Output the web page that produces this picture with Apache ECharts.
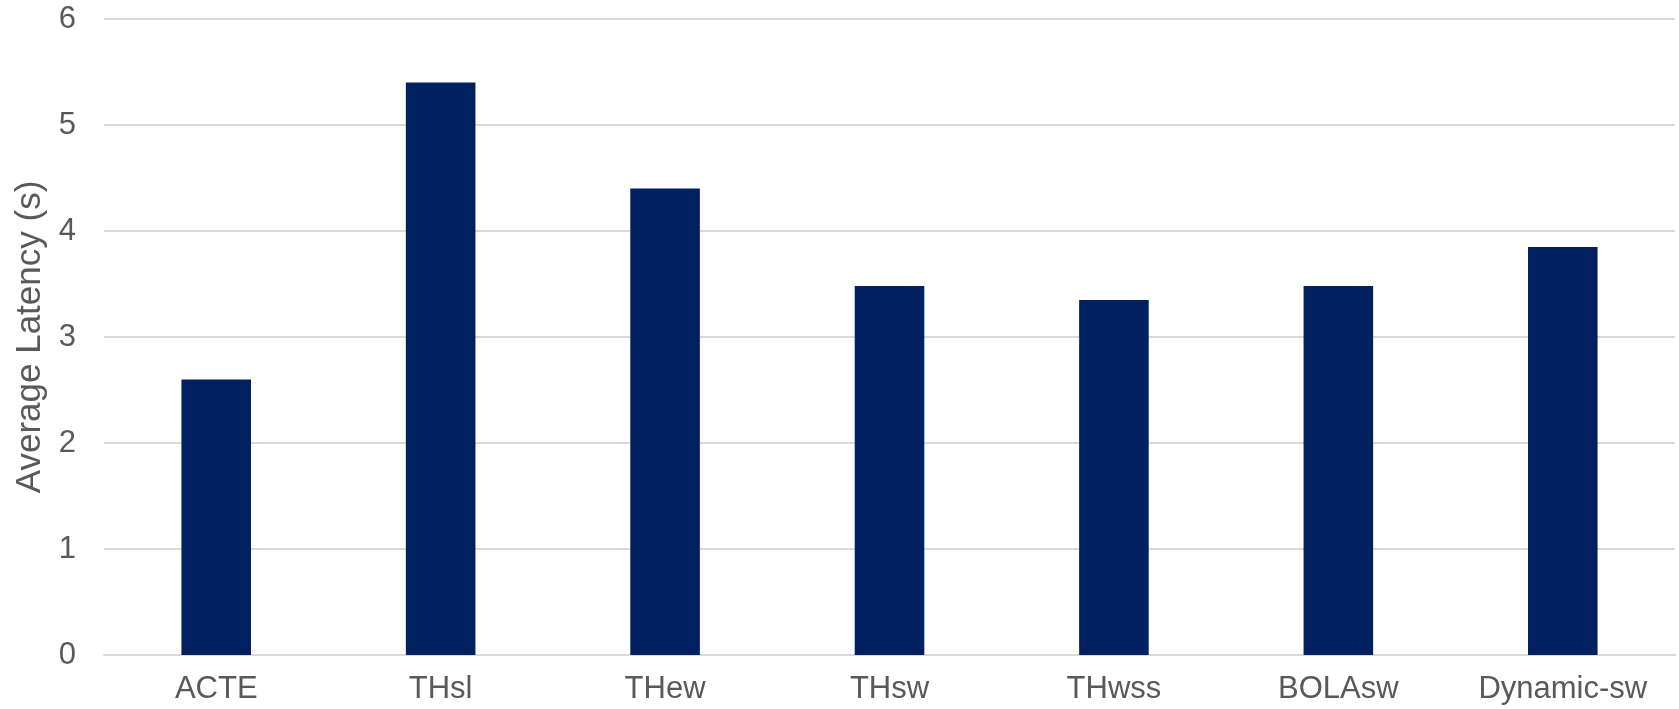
<!DOCTYPE html>
<html>
<head>
<meta charset="utf-8">
<script src="https://cdn.jsdelivr.net/npm/echarts@6/dist/echarts.min.js"></script>
<style>
html,body{margin:0;padding:0;background:#fff;}
#chart{width:1679px;height:709px;}
</style>
</head>
<body>
<div id="chart"></div>
<script>
const categories = ['ACTE', 'THsl', 'THew', 'THsw', 'THwss', 'BOLAsw', 'Dynamic-sw'];
const latency = [2.6, 5.4, 4.4, 3.48, 3.35, 3.48, 3.85];
const yTicks = { min: 0, max: 6, interval: 1 };
const yAxisTitle = 'Average Latency (s)';

const chart = echarts.init(document.getElementById('chart'), null, { renderer: 'canvas' });
const font = 'Liberation Sans, Arial, sans-serif';
chart.setOption({
  animation: false,
  backgroundColor: '#ffffff',
  grid: { left: 104, right: 4, top: 19, bottom: 54, containLabel: false },
  xAxis: {
    type: 'category',
    data: categories,
    axisLine: { show: true, lineStyle: { color: '#d9d9d9', width: 2 } },
    axisTick: { show: false },
    axisLabel: { color: '#595959', fontSize: 31, fontFamily: font, margin: 19 }
  },
  yAxis: {
    type: 'value',
    min: yTicks.min,
    max: yTicks.max,
    interval: yTicks.interval,
    name: yAxisTitle,
    nameLocation: 'middle',
    nameGap: 55,
    nameTextStyle: { color: '#595959', fontSize: 35, fontFamily: font },
    axisLine: { show: false },
    axisTick: { show: false },
    axisLabel: { color: '#595959', fontSize: 31, fontFamily: font, margin: 28 },
    splitLine: { lineStyle: { color: '#d9d9d9', width: 2 } }
  },
  series: [{
    type: 'bar',
    data: latency,
    barCategoryGap: '69%',
    itemStyle: { color: '#002060' }
  }]
});
</script>
</body>
</html>
